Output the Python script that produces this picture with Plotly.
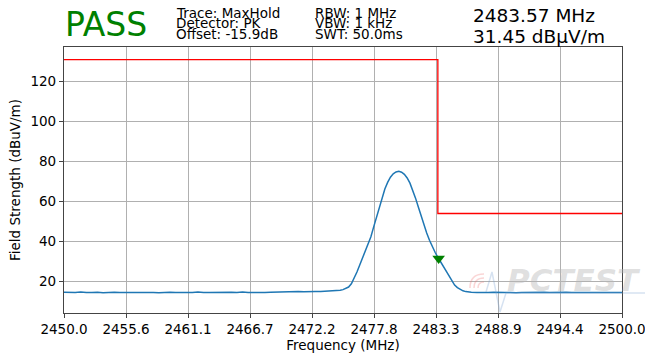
import plotly.graph_objects as go
import numpy as np

# sweep: coarse floor on each side, finer points across the emission
freq_left = np.arange(2450.0, 2474.01, 0.5)
level_left = [
    14.6, 14.4, 14.5, 14.7, 14.4, 14.5, 14.6, 14.3, 14.5, 14.6,
    14.4, 14.5, 14.7, 14.5, 14.4, 14.6, 14.5, 14.3, 14.5, 14.6,
    14.5, 14.4, 14.6, 14.5, 14.7, 14.4, 14.5, 14.6, 14.4, 14.5,
    14.6, 14.5, 14.7, 14.5, 14.4, 14.6, 14.5, 14.6, 14.7, 14.6,
    14.8, 14.7, 14.9, 14.8, 15.0, 14.9, 15.0, 15.1, 15.1,
]
freq_peak = np.arange(2474.25, 2486.51, 0.25)
level_peak = [
    15.2, 15.4, 15.6, 15.9, 16.4, 17.2, 18.8, 21.4, 24.7, 28.2,
    31.6, 35.0, 38.5, 42.4, 47.3, 52.4, 57.4, 62.2, 66.3, 69.6,
    72.2, 73.9, 74.8, 75.1, 74.7, 73.6, 71.8, 69.2, 65.8, 61.7,
    57.3, 52.8, 48.3, 44.2, 40.6, 37.4, 34.6, 32.1, 29.7, 27.3,
    24.8, 22.3, 20.0, 18.2, 16.9, 16.0, 15.3, 14.9, 14.7, 14.6,
]
freq_right = np.arange(2487.0, 2500.01, 0.5)
level_right = [
    14.5, 14.4, 14.5, 14.6, 14.4, 14.5, 14.5, 14.3, 14.5, 14.6,
    14.4, 14.5, 14.6, 14.4, 14.5, 14.5, 14.6, 14.4, 14.5, 14.6,
    14.5, 14.4, 14.5, 14.6, 14.5, 14.4, 14.5,
]

limit_freq = [2450.0, 2483.5, 2483.5, 2500.0]
limit_level = [131.0, 131.0, 54.0, 54.0]

marker_freq = [2483.57]
marker_level = [31.45]

x_ticktext = ["2450.0", "2455.6", "2461.1", "2466.7", "2472.2",
              "2477.8", "2483.3", "2488.9", "2494.4", "2500.0"]
y_tickvals = [20, 40, 60, 80, 100, 120]

freq = np.concatenate([freq_left, freq_peak, freq_right])
level = level_left + level_peak + level_right

FONT = "DejaVu Sans"

fig = go.Figure()
fig.add_trace(go.Scatter(x=freq, y=level, mode="lines",
                         line=dict(color="#1f77b4", width=1.5)))
fig.add_trace(go.Scatter(x=limit_freq, y=limit_level, mode="lines",
                         line=dict(color="#ff0000", width=1.3)))
fig.add_trace(go.Scatter(x=marker_freq, y=marker_level, mode="markers",
                         marker=dict(symbol="triangle-down", size=11, color="#008000")))


# header / watermark placed in figure pixels
def px(x):
    return (x - 64) / 558


def py(y):
    return (313 - y) / 266


def label(text, x, y, size, color="black", **kw):
    fig.add_annotation(text=text, x=px(x), y=py(y), xref="paper", yref="paper",
                       xanchor="left", yanchor="middle", showarrow=False,
                       borderpad=0, font=dict(family=FONT, size=size, color=color, **kw))


label("PASS", 64, 24.5, 33, "#008000")
label("Trace: MaxHold", 175, 12.6, 13.5)
label("Detector: PK", 175, 23.4, 13.5)
label("Offset: -15.9dB", 175, 34.2, 13.5)
label("RBW: 1 MHz", 314, 12.6, 13.5)
label("VBW: 1 kHz", 314, 23.4, 13.5)
label("SWT: 50.0ms", 314, 34.2, 13.5)
label("2483.57 MHz", 472, 15.2, 18.5)
label("31.45 dBµV/m", 472, 36.2, 18.5)

# faint PCTEST watermark
label("PCTEST", 506, 280, 31, "rgba(185,185,185,0.45)", weight="bold", style="italic")
fig.add_shape(type="path", xref="paper", yref="paper",
              path=f"M{px(486)},{py(292)} L{px(492)},{py(272)} L{px(500)},{py(312)} "
                   f"L{px(506)},{py(293)} L{px(645)},{py(293)}",
              line=dict(color="rgba(120,160,210,0.3)", width=1.5))
for r in (6, 10, 14):
    fig.add_shape(type="path", xref="paper", yref="paper",
                  path=f"M{px(484 - r)},{py(288)} Q{px(484 - r)},{py(288 - r)} {px(484)},{py(288 - r)}",
                  line=dict(color="rgba(240,120,120,0.3)", width=1.5))

axis_style = dict(showgrid=True, gridcolor="#b0b0b0", gridwidth=1.1,
                  showline=True, linecolor="#444", linewidth=1.2, mirror=True,
                  ticks="outside", ticklen=4, tickcolor="#444", zeroline=False,
                  automargin=False, ticklabeloverflow="allow",
                  tickfont=dict(family=FONT, size=13.5, color="black"))

fig.update_xaxes(range=[2450, 2500], tickvals=np.linspace(2450, 2500, 10),
                 ticktext=x_ticktext,
                 title=dict(text="Frequency (MHz)", standoff=2,
                            font=dict(family=FONT, size=13.5, color="black")),
                 **axis_style)
fig.update_yaxes(range=[4.2, 137.35], tickvals=y_tickvals,
                 title=dict(text="Field Strength (dBuV/m)", standoff=6,
                            font=dict(family=FONT, size=13.5, color="black")),
                 **axis_style)

fig.update_layout(width=645, height=358, margin=dict(l=64, r=23, t=47, b=45),
                  plot_bgcolor="white", paper_bgcolor="white", showlegend=False,
                  font=dict(family=FONT, color="black"))

# drop the browser's default body margin so the figure sits at the window origin
fig.write_html("out.html", config={"displayModeBar": False},
               post_script="document.body.style.margin = '0';")
